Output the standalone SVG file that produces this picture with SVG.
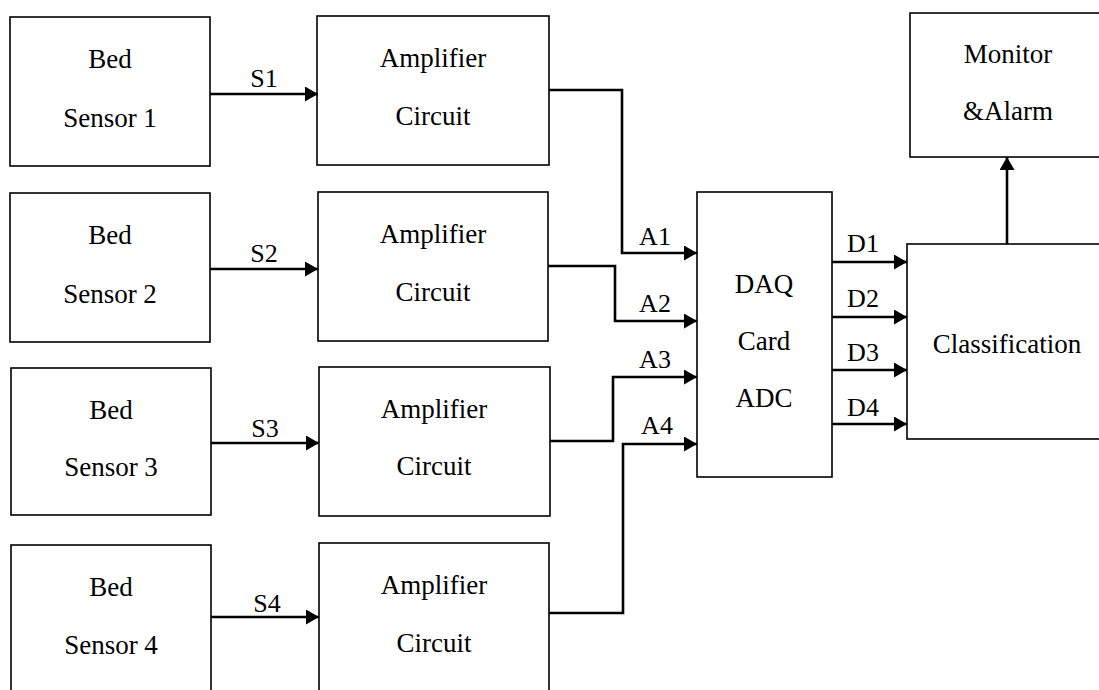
<svg xmlns="http://www.w3.org/2000/svg" width="1099" height="690" viewBox="0 0 1099 690">
<defs>
<marker id="ah" markerUnits="userSpaceOnUse" markerWidth="14" markerHeight="15" refX="13" refY="7.5" orient="auto">
<path d="M0,0 L13,7.5 L0,15 z" fill="#000"/>
</marker>
<style>
.box{fill:#fff;stroke:#000;stroke-width:1.6}
.t{font-size:27px;fill:#000;text-anchor:middle}
.l{font-size:26px;fill:#000;text-anchor:middle}
.c{fill:none;stroke:#000;stroke-width:2.6;marker-end:url(#ah)}
</style>
</defs>
<rect width="1099" height="690" fill="#fff"/>
<g font-family="'Liberation Serif', 'Times New Roman', 'DejaVu Serif', serif">
<g id="sensor1"><rect class="box" x="10" y="17" width="200" height="149"/><text class="t" x="110" y="68">Bed</text><text class="t" x="110" y="127">Sensor 1</text></g>
<g id="sensor2"><rect class="box" x="10" y="193" width="200" height="149"/><text class="t" x="110" y="244">Bed</text><text class="t" x="110" y="303">Sensor 2</text></g>
<g id="sensor3"><rect class="box" x="11" y="368" width="200" height="147"/><text class="t" x="111" y="419">Bed</text><text class="t" x="111" y="476">Sensor 3</text></g>
<g id="sensor4"><rect class="box" x="11" y="545" width="200" height="170"/><text class="t" x="111" y="596">Bed</text><text class="t" x="111" y="654">Sensor 4</text></g>
<g id="amp1"><rect class="box" x="317" y="16" width="232" height="149"/><text class="t" x="433" y="67">Amplifier</text><text class="t" x="433" y="125">Circuit</text></g>
<g id="amp2"><rect class="box" x="318" y="192" width="230" height="149"/><text class="t" x="433" y="243">Amplifier</text><text class="t" x="433" y="301">Circuit</text></g>
<g id="amp3"><rect class="box" x="319" y="367" width="231" height="149"/><text class="t" x="434" y="418">Amplifier</text><text class="t" x="434" y="475">Circuit</text></g>
<g id="amp4"><rect class="box" x="319" y="543" width="230" height="170"/><text class="t" x="434" y="594">Amplifier</text><text class="t" x="434" y="652">Circuit</text></g>
<g id="daq"><rect class="box" x="697" y="192" width="135" height="285"/><text class="t" x="764" y="293">DAQ</text><text class="t" x="764" y="350">Card</text><text class="t" x="764" y="407">ADC</text></g>
<g id="monitor"><rect class="box" x="910" y="13" width="210" height="144"/><text class="t" x="1008" y="63">Monitor</text><text class="t" x="1008" y="120">&amp;Alarm</text></g>
<g id="classification"><rect class="box" x="907" y="244" width="210" height="195"/><text class="t" x="1007" y="353">Classification</text></g>
<g id="connectors">
<path class="c" d="M210,94 H318"/>
<path class="c" d="M210,269 H318"/>
<path class="c" d="M211,443 H319"/>
<path class="c" d="M211,617 H319"/>
<path class="c" d="M549,90 H622 V253 H697"/>
<path class="c" d="M548,266 H615 V321 H697"/>
<path class="c" d="M550,441 H613 V377 H697"/>
<path class="c" d="M549,613 H623 V444 H697"/>
<path class="c" d="M832,262 H907"/>
<path class="c" d="M832,317 H907"/>
<path class="c" d="M832,370 H907"/>
<path class="c" d="M832,424 H907"/>
<path class="c" d="M1007,244 V157"/>
<text class="l" x="264" y="87">S1</text>
<text class="l" x="264" y="262">S2</text>
<text class="l" x="265" y="437">S3</text>
<text class="l" x="267" y="612">S4</text>
<text class="l" x="655" y="245">A1</text>
<text class="l" x="655" y="312">A2</text>
<text class="l" x="655" y="368">A3</text>
<text class="l" x="657" y="434">A4</text>
<text class="l" x="863" y="252">D1</text>
<text class="l" x="863" y="307">D2</text>
<text class="l" x="863" y="361">D3</text>
<text class="l" x="863" y="416">D4</text>
</g>
</g>
</svg>
